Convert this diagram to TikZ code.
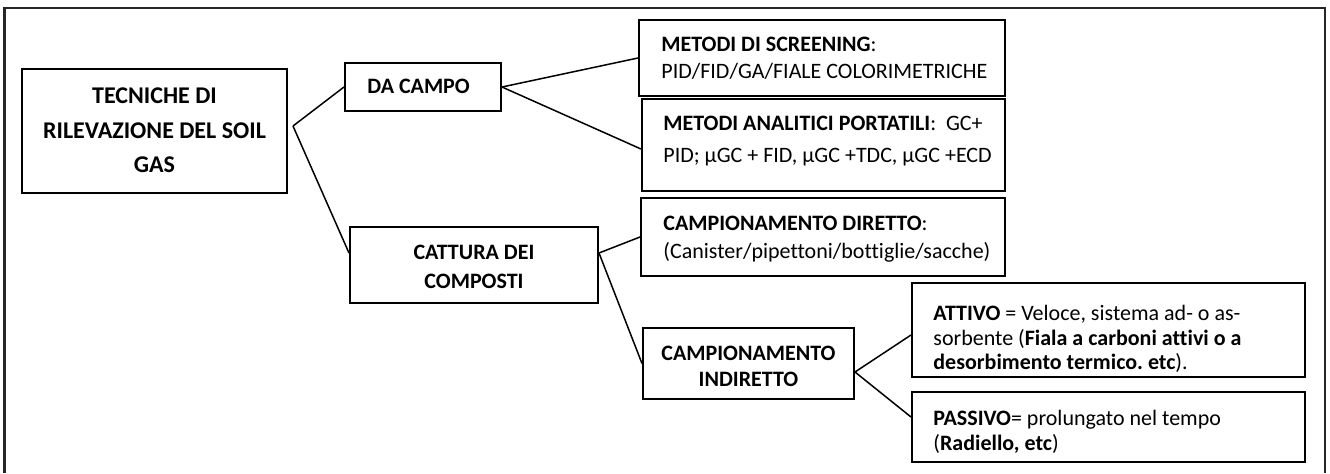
\documentclass[tikz,border=0pt]{standalone}
\usepackage{fontspec}
\setmainfont{Carlito}[Ligatures=NoCommon]
\frenchspacing
\begin{document}
\begin{tikzpicture}[x=0.5pt,y=-0.5pt,
  box/.style={draw, rectangle, line width=1pt, inner sep=0pt},
  conn/.style={line width=0.75pt},
  frame/.style={line width=1.3pt, draw=black!85},
  txt/.style={inner sep=0pt, anchor=base west, font=\fontsize{11}{13}\selectfont},
  ctxt/.style={inner sep=0pt, anchor=base, font=\fontsize{11}{13}\selectfont\bfseries},
  ttxt/.style={inner sep=0pt, anchor=base, font=\fontsize{12}{14}\selectfont\bfseries}]
\useasboundingbox (0,0) rectangle (1330,473);
% outer frame (open at the bottom)
\draw[frame] (4.5,473) |- (1325,8) -- (1325,473);
% boxes
\node[box, minimum width=132.5pt, minimum height=62pt] (m) at (154.5,131) {};
\node[box, minimum width=78pt, minimum height=24pt] (dac) at (423,87) {};
\node[box, minimum width=124pt, minimum height=38pt] (cat) at (474,265) {};
\node[box, minimum width=183pt, minimum height=38pt] (scr) at (822,58) {};
\node[box, minimum width=181.5pt, minimum height=46pt] (ana) at (823.5,145) {};
\node[box, minimum width=182pt, minimum height=39pt] (dir) at (823,237) {};
\node[box, minimum width=105.5pt, minimum height=35.5pt] (ind) at (748.5,363.5) {};
\node[box, minimum width=196.5pt, minimum height=47pt] (att) at (1108.5,330) {};
\node[box, minimum width=196.5pt, minimum height=35pt] (pas) at (1108.5,427) {};
% texts
\node[ttxt] (m1) at (154.5,103) {TECNICHE DI};
\node[ttxt] (m2) at (154.5,138) {RILEVAZIONE DEL SOIL};
\node[ttxt] (m3) at (154.5,172) {GAS};
\node[txt, font=\fontsize{11}{13}\selectfont\bfseries] (dac1) at (367,93) {DA CAMPO};
\node[ctxt] (cat1) at (474,259) {CATTURA DEI};
\node[ctxt] (cat2) at (474,288) {COMPOSTI};
\node[txt] (scr1) at (661,51) {\textbf{METODI DI SCREENING}:};
\node[txt] (scr2) at (661,78) {PID/FID/GA/FIALE COLORIMETRICHE};
\node[txt] (ana1) at (663,130) {\textbf{METODI ANALITICI PORTATILI}:\ \ GC+};
\node[txt] (ana2) at (663,162) {PID; μGC + FID, μGC +TDC, μGC +ECD};
\node[txt] (dir1) at (663,230) {\textbf{CAMPIONAMENTO DIRETTO}:};
\node[txt] (dir2) at (663,258) {(Canister/pipettoni/bottiglie/sacche)};
\node[ctxt] (ind1) at (748.5,360) {CAMPIONAMENTO};
\node[ctxt] (ind2) at (748.5,386) {INDIRETTO};
\node[txt] (att1) at (933,320) {\textbf{ATTIVO} = Veloce, sistema ad- o as-};
\node[txt] (att2) at (933,345) {sorbente (\textbf{Fiala a carboni attivi o a}};
\node[txt] (att3) at (933,369) {\textbf{desorbimento termico. etc}).};
\node[txt] (pas1) at (933,425) {\textbf{PASSIVO}= prolungato nel tempo};
\node[txt] (pas2) at (933,450) {(\textbf{Radiello, etc})};
% junction points
\coordinate (mj) at ([xshift=2.5pt,yshift=2.5pt]m.east);
\coordinate (catw) at ([yshift=6pt]cat.west);
\coordinate (cate) at ([yshift=6pt]cat.east);
\coordinate (inde) at ([yshift=-4.25pt]ind.east);
% connectors
\draw[conn] (mj) -- (dac.west);
\draw[conn] (mj) -- (catw);
\draw[conn] (dac.east) -- (scr.west);
\draw[conn] (dac.east) -- ([yshift=-2pt]ana.west);
\draw[conn] (cate) -- (dir.west);
\draw[conn] (cate) -- (ind.west);
\draw[conn] (inde) -- ([yshift=-2.5pt]att.west);
\draw[conn] (inde) -- ([yshift=5pt]pas.west);
\end{tikzpicture}
\end{document}
